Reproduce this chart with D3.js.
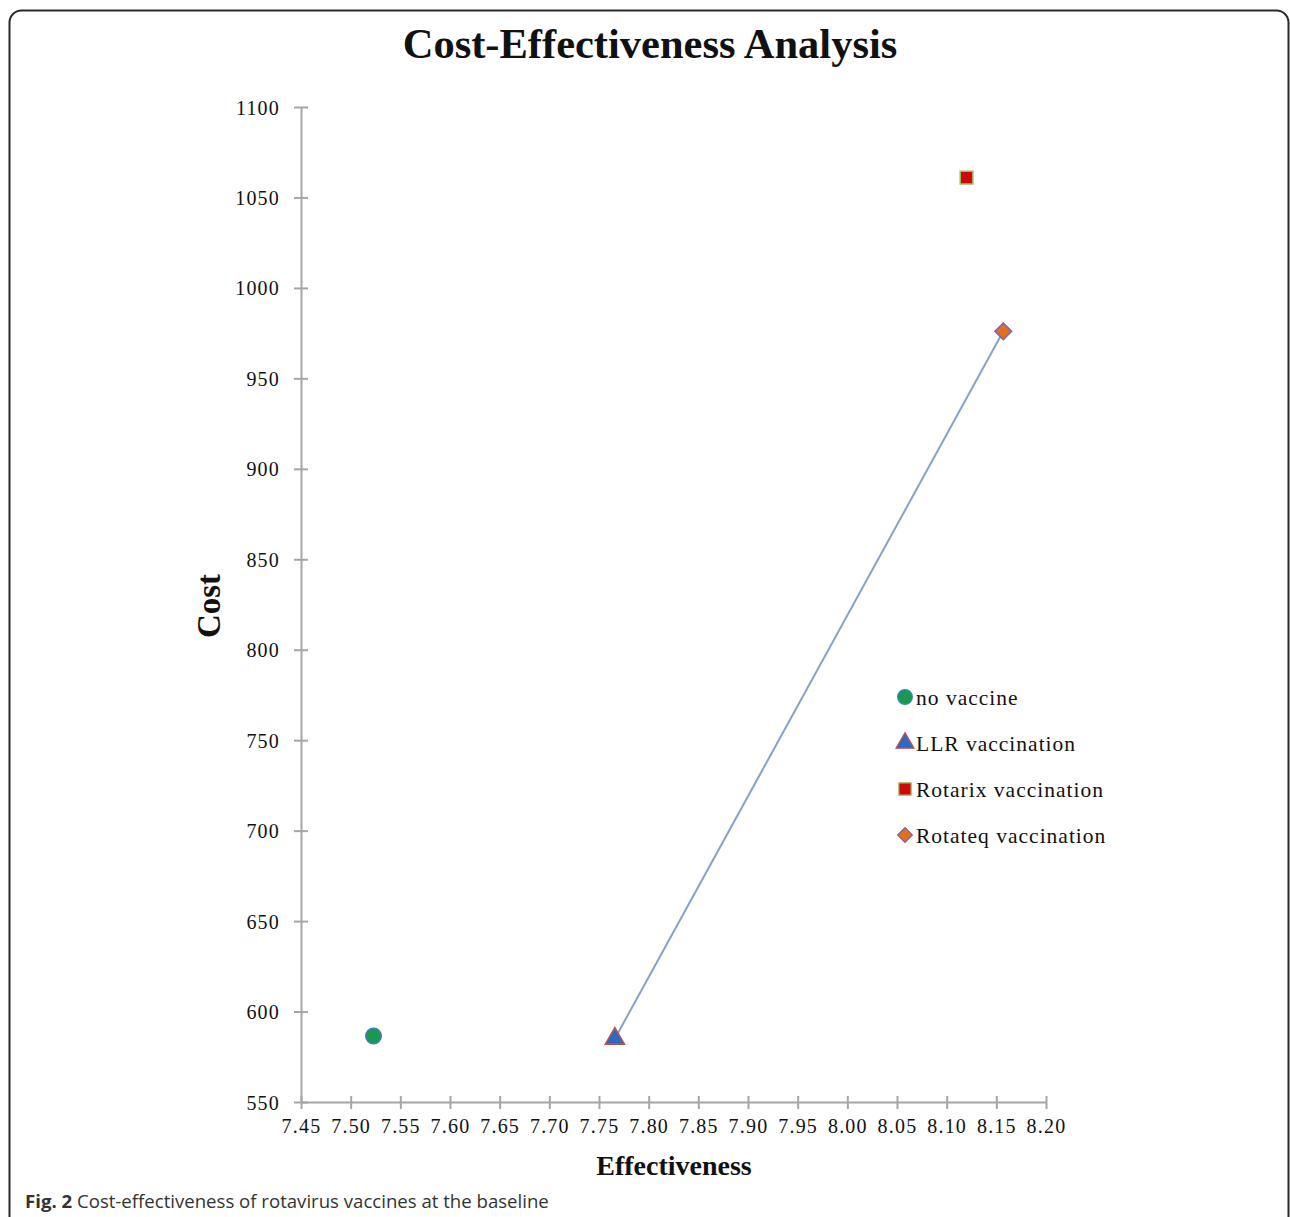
<!DOCTYPE html>
<html>
<head>
<meta charset="utf-8">
<script src="https://cdn.jsdelivr.net/npm/d3@7"></script>
<style>
html,body{margin:0;padding:0;background:#fff;}
svg{display:block;}
</style>
</head>
<body>
<svg id="chart" width="1290" height="1217"></svg>
<script>
const seriesNames = ["no vaccine", "LLR vaccination", "Rotarix vaccination", "Rotateq vaccination"];
const effectiveness = [7.523, 7.766, 8.120, 8.157];
const cost = [586.5, 585, 1061, 976];
const frontier = ["LLR vaccination", "Rotateq vaccination"];
const xTicks = [7.45,7.50,7.55,7.60,7.65,7.70,7.75,7.80,7.85,7.90,7.95,8.00,8.05,8.10,8.15,8.20];
const yTicks = [550,600,650,700,750,800,850,900,950,1000,1050,1100];

const markerStyle = {
  "no vaccine": {shape: d3.symbolCircle, rot: 0, fill: "#179a50", stroke: "#3f7fb8"},
  "LLR vaccination": {shape: d3.symbolTriangle, rot: 0, fill: "#2f68bf", stroke: "#c0504d"},
  "Rotarix vaccination": {shape: d3.symbolSquare, rot: 0, fill: "#cc0a0a", stroke: "#9bbb59"},
  "Rotateq vaccination": {shape: d3.symbolSquare, rot: 45, fill: "#e0701f", stroke: "#8064a2"}
};

const svg = d3.select("#chart");
const serif = "'Liberation Serif','Times New Roman',serif";

// frame
svg.append("rect").attr("x",9.5).attr("y",10.5).attr("width",1279).attr("height",1300)
  .attr("rx",12).attr("fill","none").attr("stroke","#2a2a2a").attr("stroke-width",2);

const x = d3.scaleLinear().domain([7.45, 8.20]).range([301, 1046]);
const y = d3.scaleLinear().domain([550, 1100]).range([1102, 107]);

// title
svg.append("text").attr("x",650).attr("y",58).attr("text-anchor","middle")
  .attr("font-family",serif).attr("font-weight","bold").attr("font-size",42.5)
  .attr("fill","#111").text("Cost-Effectiveness Analysis");

// axes
const axisColor = "#a6a6a6";
const yAxis = svg.append("g").attr("transform","translate(301,0)")
  .call(d3.axisLeft(y).tickValues(yTicks).tickFormat(d3.format("d")).tickSizeInner(0).tickSizeOuter(0).tickPadding(21));
const xAxis = svg.append("g").attr("transform","translate(0,1102)")
  .call(d3.axisBottom(x).tickValues(xTicks).tickFormat(d3.format(".2f")).tickSizeInner(0).tickSizeOuter(0).tickPadding(17));
[yAxis, xAxis].forEach(g => {
  g.select(".domain").attr("stroke", axisColor).attr("stroke-width", 2);
  g.selectAll("text").attr("font-family", serif).attr("font-size", 20).attr("fill","#111")
    .attr("letter-spacing", "1.2px");
});
yAxis.selectAll(".tick").append("line").attr("x1",-7).attr("x2",7).attr("stroke",axisColor).attr("stroke-width",2);
xAxis.selectAll(".tick").append("line").attr("y1",-6).attr("y2",7).attr("stroke",axisColor).attr("stroke-width",2);
yAxis.selectAll("text").attr("dy","0.35em");

// axis titles
svg.append("text").attr("transform","translate(220,606) rotate(-90)").attr("text-anchor","middle")
  .attr("font-family",serif).attr("font-weight","bold").attr("font-size",33).attr("fill","#111").text("Cost");
svg.append("text").attr("x",674).attr("y",1175).attr("text-anchor","middle")
  .attr("font-family",serif).attr("font-weight","bold").attr("font-size",28).attr("fill","#111").text("Effectiveness");

// frontier line
const pts = frontier.map(n => { const i = seriesNames.indexOf(n); return [effectiveness[i], cost[i]]; });
svg.append("path").attr("d", d3.line().x(d=>x(d[0])).y(d=>y(d[1]))(pts))
  .attr("fill","none").attr("stroke","#86a2c8").attr("stroke-width",2);

// points
const sizes = {"no vaccine":190, "LLR vaccination":160, "Rotarix vaccination":160, "Rotateq vaccination":140};
seriesNames.forEach((n,i) => {
  const s = markerStyle[n];
  svg.append("path").attr("d", d3.symbol().type(s.shape).size(sizes[n])())
    .attr("transform", `translate(${x(effectiveness[i])},${y(cost[i])}) rotate(${s.rot})`)
    .attr("fill", s.fill).attr("stroke", s.stroke).attr("stroke-width", 1.5);
});

// legend
const legendY = [697, 743, 789, 835];
seriesNames.forEach((n,i) => {
  const s = markerStyle[n];
  const lsize = {"no vaccine":170, "LLR vaccination":140, "Rotarix vaccination":150, "Rotateq vaccination":110}[n];
  svg.append("path").attr("d", d3.symbol().type(s.shape).size(lsize)())
    .attr("transform", `translate(905,${legendY[i]}) rotate(${s.rot})`)
    .attr("fill", s.fill).attr("stroke", s.stroke).attr("stroke-width", 1.2);
  svg.append("text").attr("x",916).attr("y",legendY[i]).attr("dy","0.35em")
    .attr("font-family",serif).attr("font-size",21.5).attr("fill","#111").attr("letter-spacing","1px").text(n);
});

// caption
const cap = svg.append("text").attr("x",25).attr("y",1208)
  .attr("font-family","'Open Sans','Noto Sans',sans-serif").attr("font-size",18.6).attr("fill","#333");
cap.append("tspan").attr("font-weight","bold").text("Fig. 2");
cap.append("tspan").text(" Cost-effectiveness of rotavirus vaccines at the baseline");
</script>
</body>
</html>
